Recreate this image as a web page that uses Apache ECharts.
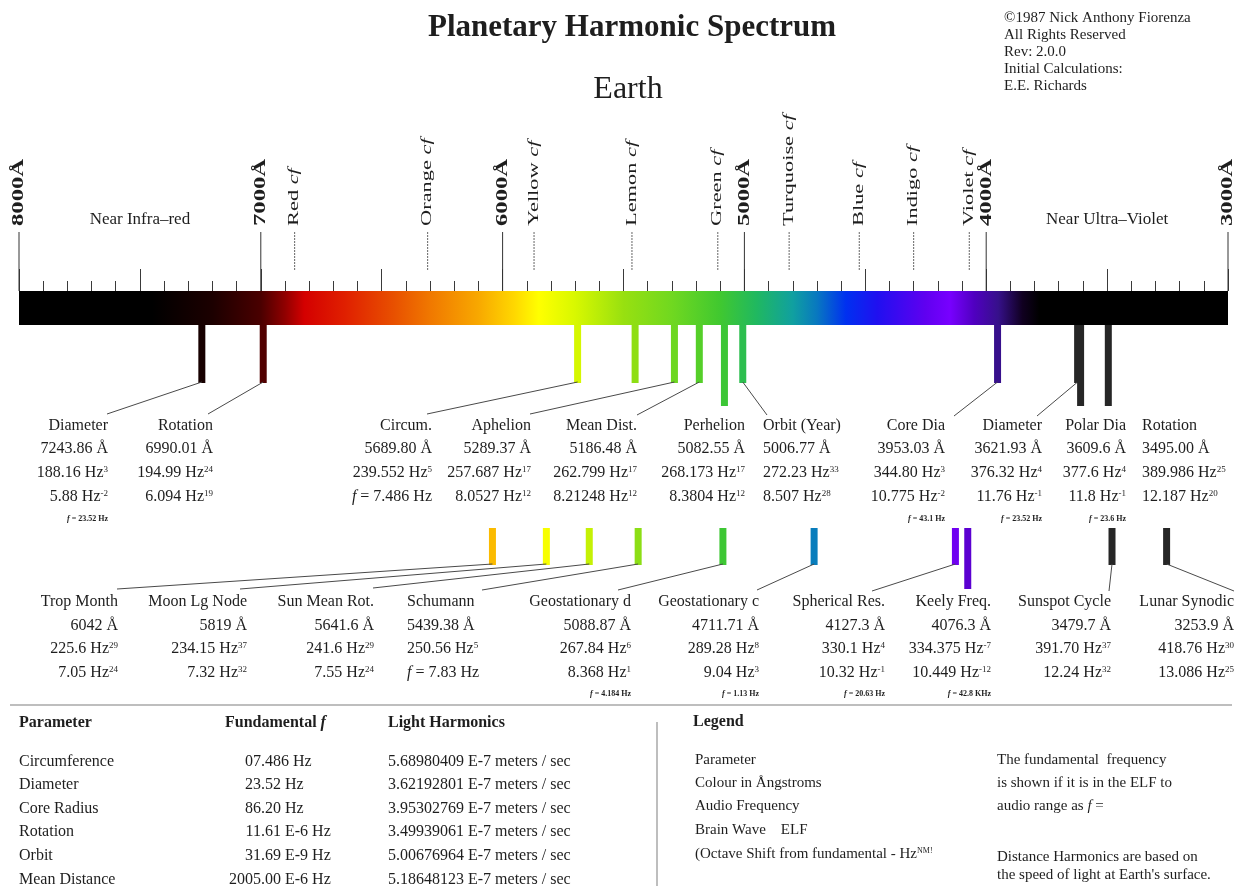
<!DOCTYPE html>
<html>
<head>
<meta charset="utf-8">
<title>Planetary Harmonic Spectrum - Earth</title>
<script src="https://cdn.jsdelivr.net/npm/echarts@6/dist/echarts.min.js"></script>
<style>
  html, body { margin: 0; padding: 0; background: #fff; }
  #main { width: 1237px; height: 886px; }
</style>
</head>
<body>
<div id="main"></div>
<script>
// ---- scale (Angstroms) ----
const scaleTicks = [8000, 7000, 6000, 5000, 4000, 3000];
const regionNames = ['Near Infra–red', 'Near Ultra–Violet'];
const regionAngstrom = [7500, 3500];
const cfNames = ['Red', 'Orange', 'Yellow', 'Lemon', 'Green', 'Turquoise', 'Blue', 'Indigo', 'Violet'];
const cfAngstrom = [6860, 6310, 5870, 5465, 5110, 4815, 4525, 4300, 4070];

// ---- upper row (Earth) ----
const upperNames = ['Diameter', 'Rotation', 'Circum.', 'Aphelion', 'Mean Dist.', 'Perhelion', 'Orbit (Year)', 'Core Dia', 'Diameter', 'Polar Dia', 'Rotation'];
const upperAngstrom = ['7243.86', '6990.01', '5689.80', '5289.37', '5186.48', '5082.55', '5006.77', '3953.03', '3621.93', '3609.6', '3495.00'];
const upperAudio = ['188.16', '194.99', '239.552', '257.687', '262.799', '268.173', '272.23', '344.80', '376.32', '377.6', '389.986'];
const upperAudioOct = [3, 24, 5, 17, 17, 17, 33, 3, 4, 4, 25];
const upperBrain = ['5.88', '6.094', null, '8.0527', '8.21248', '8.3804', '8.507', '10.775', '11.76', '11.8', '12.187'];
const upperBrainOct = [-2, 19, null, 12, 12, 12, 28, -2, -1, -1, 20];
const upperFund = ['23.52 Hz', null, '7.486 Hz', null, null, null, null, '43.1 Hz', '23.52 Hz', '23.6 Hz', null];
const unlabeledAngstrom = [5452];

// ---- lower row (Moon, Sun, resonances) ----
const lowerNames = ['Trop Month', 'Moon Lg Node', 'Sun Mean Rot.', 'Schumann', 'Geostationary d', 'Geostationary c', 'Spherical Res.', 'Keely Freq.', 'Sunspot Cycle', 'Lunar Synodic'];
const lowerAngstrom = ['6042', '5819', '5641.6', '5439.38', '5088.87', '4711.71', '4127.3', '4076.3', '3479.7', '3253.9'];
const lowerAudio = ['225.6', '234.15', '241.6', '250.56', '267.84', '289.28', '330.1', '334.375', '391.70', '418.76'];
const lowerAudioOct = [29, 37, 29, 5, 6, 8, 4, -7, 37, 30];
const lowerBrain = ['7.05', '7.32', '7.55', null, '8.368', '9.04', '10.32', '10.449', '12.24', '13.086'];
const lowerBrainOct = [24, 32, 24, null, 1, 3, -1, -12, 32, 25];
const lowerFund = [null, null, null, '7.83 Hz', '4.184 Hz', '1.13 Hz', '20.63 Hz', '42.8 KHz', null, null];

// ---- table / legend ----
const tableParams = ['Circumference', 'Diameter', 'Core Radius', 'Rotation', 'Orbit', 'Mean Distance'];
const tableFundamental = ['07.486 Hz', '23.52 Hz', '86.20 Hz', '11.61 E-6 Hz', '31.69 E-9 Hz', '2005.00 E-6 Hz'];
const tableLight = ['5.68980409', '3.62192801', '3.95302769', '3.49939061', '5.00676964', '5.18648123'];
const legendLeft = ['Parameter', 'Colour in Ångstroms', 'Audio Frequency', 'Brain Wave    ELF', '(Octave Shift from fundamental - Hz{s|NM!}'];
const legendRight = ['The fundamental  frequency', 'is shown if it is in the ELF to', 'audio range as {i|f} =', '', 'Distance Harmonics are based on', 'the speed of light at Earth\'s surface.'];

// ---- styles / layout ----
const FONT = '"Liberation Serif", "DejaVu Serif", serif';
const INK = '#1e1e1e';
const spectrumStops = [
  [8000, '#000000'], [7450, '#000000'], [7200, '#1c0000'], [7000, '#4a0000'], [6900, '#900000'],
  [6820, '#d40000'], [6650, '#e02000'], [6450, '#e85000'], [6300, '#f07800'], [6100, '#f8a800'],
  [5950, '#ffd800'], [5850, '#ffff00'], [5700, '#d8f800'], [5500, '#98e010'], [5300, '#70d820'],
  [5100, '#40c830'], [4950, '#20b860'], [4800, '#10a0a0'], [4700, '#0878c0'], [4580, '#0030f0'],
  [4450, '#2010f0'], [4250, '#6000f0'], [4150, '#7800ff'], [4050, '#5000c0'], [3950, '#36108a'],
  [3850, '#100020'], [3780, '#000000'], [3000, '#000000']
];
const upperLayout = {
  textX: [108, 213, 432, 531, 637, 745, 763, 945, 1042, 1126, 1142],
  align: ['right', 'right', 'right', 'right', 'right', 'right', 'left', 'right', 'right', 'right', 'left'],
  long: [false, false, false, false, false, true, false, false, false, true, true],
  leader: [[107, 414], [208, 414], [427, 414], [530, 414], [637, 415], null, [767, 415], [954, 416], [1037, 416], null, null],
  rowsY: [426, 449, 473, 497, 519],
  barTop: 0, shortBottom: 58, longBottom: 81
};
const lowerLayout = {
  textX: [118, 247, 374, 407, 631, 759, 885, 991, 1111, 1234],
  align: ['right', 'right', 'right', 'left', 'right', 'right', 'right', 'right', 'right', 'right'],
  long: [false, false, false, false, false, false, false, true, false, false],
  leader: [[117, 589], [240, 589], [373, 588], [482, 590], [618, 590], [757, 590], [872, 591], null, [1109, 591], [1234, 591]],
  rowsY: [602, 626, 649, 673, 694],
  barTop: 203, shortBottom: 240, longBottom: 264
};

function hexToRgb(h) {
  return [parseInt(h.slice(1, 3), 16), parseInt(h.slice(3, 5), 16), parseInt(h.slice(5, 7), 16)];
}
function spectrumColor(a) {
  for (let k = 0; k < spectrumStops.length - 1; k++) {
    const a0 = spectrumStops[k][0], a1 = spectrumStops[k + 1][0];
    if (a <= a0 && a >= a1) {
      const t = (a0 - a) / (a0 - a1);
      const p = hexToRgb(spectrumStops[k][1]), q = hexToRgb(spectrumStops[k + 1][1]);
      return 'rgb(' + p.map((v, j) => Math.round(v + (q[j] - v) * t)).join(',') + ')';
    }
  }
  return '#000';
}
function barColor(a) {
  return a < 3800 ? '#262626' : spectrumColor(a);
}

function makeRich(size, bold) {
  const w = bold ? 'bold' : 'normal';
  return {
    i: { fontSize: size, fontFamily: FONT, fontWeight: w, fontStyle: 'italic', fill: INK },
    s: { fontSize: Math.max(6, Math.round(size * 0.55)), fontFamily: FONT, fill: INK, verticalAlign: 'top' }
  };
}
function txt(x, y, text, opt) {
  opt = opt || {};
  const size = opt.size || 16;
  return {
    type: 'text', x: x, y: y, rotation: opt.rotation || 0, scaleX: opt.scaleX || 1, silent: true,
    style: {
      text: text,
      fill: opt.fill || INK,
      font: (opt.italic ? 'italic ' : '') + (opt.bold ? 'bold ' : '') + size + 'px ' + FONT,
      align: opt.align || 'left',
      verticalAlign: opt.vAlign || 'middle',
      rich: makeRich(size, opt.bold)
    }
  };
}
function line(x1, y1, x2, y2, stroke, width, dash) {
  return {
    type: 'line', silent: true,
    shape: { x1: x1, y1: y1, x2: x2, y2: y2 },
    style: { stroke: stroke, lineWidth: width || 1, lineDash: dash || null }
  };
}

function blockChildren(i, d, lay) {
  const x = lay.textX[i], al = lay.align[i], ys = lay.rowsY;
  const out = [
    txt(x, ys[0], d.names[i], { align: al }),
    txt(x, ys[1], d.angstrom[i] + ' Å', { align: al }),
    txt(x, ys[2], d.audio[i] + ' Hz{s|' + d.audioOct[i] + '}', { align: al })
  ];
  if (d.brain[i] == null) {
    out.push(txt(x, ys[3], '{i|f} = ' + d.fund[i], { align: al }));
  } else {
    out.push(txt(x, ys[3], d.brain[i] + ' Hz{s|' + d.brainOct[i] + '}', { align: al }));
    if (d.fund[i]) out.push(txt(x, ys[4], '{i|f} = ' + d.fund[i], { align: al, size: 8, bold: true }));
  }
  return out;
}

function rowRender(d, lay) {
  return function (params, api) {
    const i = params.dataIndex;
    const a = api.value(0);
    const base = api.coord([a, 0]);
    const x = base[0];
    const top = base[1] + lay.barTop;
    const bottom = base[1] + (lay.long[i] ? lay.longBottom : lay.shortBottom);
    let children = [{
      type: 'rect', silent: true,
      shape: { x: x - 3.5, y: top, width: 7, height: bottom - top },
      style: { fill: barColor(a) }
    }];
    const to = lay.leader[i];
    if (to) children.push(line(x, bottom - 1, to[0], to[1], '#4a4a4a', 1));
    children = children.concat(blockChildren(i, d, lay));
    return { type: 'group', children: children };
  };
}

const upperData = {
  names: upperNames, angstrom: upperAngstrom, audio: upperAudio, audioOct: upperAudioOct,
  brain: upperBrain, brainOct: upperBrainOct, fund: upperFund
};
const lowerData = {
  names: lowerNames, angstrom: lowerAngstrom, audio: lowerAudio, audioOct: lowerAudioOct,
  brain: lowerBrain, brainOct: lowerBrainOct, fund: lowerFund
};

// ---- static texts ----
const graphics = [
  txt(632, 28, 'Planetary Harmonic Spectrum', { size: 31, bold: true, align: 'center' }),
  txt(628, 90, 'Earth', { size: 32, align: 'center' })
];
['©1987 Nick Anthony Fiorenza', 'All Rights Reserved', 'Rev: 2.0.0', 'Initial Calculations:', 'E.E. Richards'].forEach(function (s, k) {
  graphics.push(txt(1004, 18 + k * 17, s, { size: 15 }));
});
graphics.push(line(10, 705, 1232, 705, '#a8a8a8', 1.5));
graphics.push(line(657, 722, 657, 886, '#a8a8a8', 1.5));

graphics.push(txt(19, 723, 'Parameter', { bold: true }));
graphics.push(txt(225, 723, 'Fundamental {i|f}', { bold: true }));
graphics.push(txt(388, 723, 'Light Harmonics', { bold: true }));
const tableRowsY = [762, 785, 809, 832, 856, 880];
tableParams.forEach(function (p, k) {
  const y = tableRowsY[k];
  const f = tableFundamental[k];
  const dot = f.indexOf('.');
  graphics.push(txt(19, y, p));
  graphics.push(txt(261, y, f.slice(0, dot), { align: 'right' }));
  graphics.push(txt(261, y, f.slice(dot)));
  graphics.push(txt(388, y, tableLight[k] + ' E-7 meters / sec'));
});
graphics.push(txt(693, 722, 'Legend', { bold: true }));
const legendLeftY = [760, 783, 806, 830, 854];
legendLeft.forEach(function (s, k) { graphics.push(txt(695, legendLeftY[k], s, { size: 15 })); });
const legendRightY = [760, 783, 806, 830, 857, 875];
legendRight.forEach(function (s, k) { if (s) graphics.push(txt(997, legendRightY[k], s, { size: 15 })); });

const chart = echarts.init(document.getElementById('main'));
const option = {
  animation: false,
  backgroundColor: '#ffffff',
  grid: { left: 19, right: 9, top: 291, height: 34 },
  xAxis: {
    type: 'value', min: 3000, max: 8000, inverse: true, position: 'top', interval: 500,
    axisLine: { show: false, onZero: false },
    axisLabel: { show: false },
    splitLine: { show: false },
    axisTick: { show: true, length: 22, lineStyle: { color: '#3a3a3a', width: 1 } },
    minorTick: { show: true, splitNumber: 5, length: 10, lineStyle: { color: '#3a3a3a', width: 1 } },
    minorSplitLine: { show: false }
  },
  yAxis: { type: 'value', min: 0, max: 1, show: false },
  graphic: graphics,
  series: [
    {
      // visible spectrum band
      type: 'custom', name: 'spectrum', silent: true,
      data: [[8000, 3000]],
      encode: { x: [0, 1] },
      renderItem: function (params, api) {
        const p0 = api.coord([api.value(0), 1]);
        const p1 = api.coord([api.value(1), 0]);
        const span = api.value(0) - api.value(1);
        return {
          type: 'rect',
          shape: { x: p0[0], y: p0[1], width: p1[0] - p0[0], height: p1[1] - p0[1] },
          style: {
            fill: new echarts.graphic.LinearGradient(0, 0, 1, 0,
              spectrumStops.map(s => ({ offset: (api.value(0) - s[0]) / span, color: s[1] })))
          }
        };
      }
    },
    {
      // thousand-angstrom scale labels
      type: 'custom', name: 'scale', silent: true,
      data: scaleTicks.map(v => [v, 1]),
      encode: { x: 0, y: 1 },
      renderItem: function (params, api) {
        const p = api.coord([api.value(0), 1]);
        return {
          type: 'group', children: [
            line(p[0], p[1] - 59, p[0], p[1], '#333', 1),
            txt(p[0], p[1] - 65, scaleTicks[params.dataIndex] + 'Å', { size: 17, bold: true, rotation: Math.PI / 2, scaleX: 1.45 })
          ]
        };
      }
    },
    {
      // colour-centre markers
      type: 'custom', name: 'colours', silent: true,
      data: cfAngstrom.map(v => [v, 1]),
      encode: { x: 0, y: 1 },
      renderItem: function (params, api) {
        const p = api.coord([api.value(0), 1]);
        return {
          type: 'group', children: [
            line(p[0], p[1] - 59, p[0], p[1] - 21, '#666', 1, [2, 1]),
            txt(p[0], p[1] - 65, cfNames[params.dataIndex] + ' {i|cf}', { size: 14, rotation: Math.PI / 2, scaleX: 1.6 })
          ]
        };
      }
    },
    {
      // region captions
      type: 'custom', name: 'regions', silent: true,
      data: regionAngstrom.map(v => [v, 1]),
      encode: { x: 0, y: 1 },
      renderItem: function (params, api) {
        const p = api.coord([api.value(0), 1]);
        return txt(p[0], p[1] - 71, regionNames[params.dataIndex], { size: 17, align: 'center' });
      }
    },
    {
      type: 'custom', name: 'upper', silent: true,
      data: upperAngstrom.map(v => [Number(v), 0]),
      encode: { x: 0, y: 1 },
      renderItem: rowRender(upperData, upperLayout)
    },
    {
      type: 'custom', name: 'unlabeled', silent: true,
      data: unlabeledAngstrom.map(v => [v, 0]),
      encode: { x: 0, y: 1 },
      renderItem: function (params, api) {
        const a = api.value(0);
        const p = api.coord([a, 0]);
        return {
          type: 'rect',
          shape: { x: p[0] - 3.5, y: p[1], width: 7, height: upperLayout.shortBottom },
          style: { fill: barColor(a) }
        };
      }
    },
    {
      type: 'custom', name: 'lower', silent: true,
      data: lowerAngstrom.map(v => [Number(v), 0]),
      encode: { x: 0, y: 1 },
      renderItem: rowRender(lowerData, lowerLayout)
    }
  ]
};
chart.setOption(option);
</script>
</body>
</html>
